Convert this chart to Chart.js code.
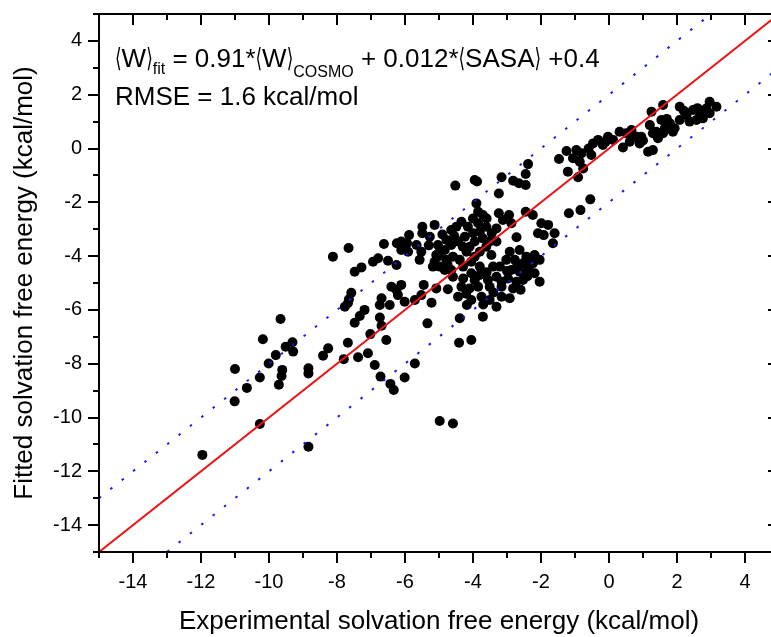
<!DOCTYPE html>
<html>
<head>
<meta charset="utf-8">
<script src="https://cdn.jsdelivr.net/npm/chart.js@4.4.0/dist/chart.umd.min.js"></script>
<style>
    html, body { margin: 0; padding: 0; background: #fff; overflow: hidden; }
    #wrap { width: 771px; height: 637px; overflow: hidden; }
</style>
</head>
<body>
<div id="wrap"><canvas id="chart" width="790" height="637"></canvas></div>
<script>
// experimental vs fitted solvation free energies (kcal/mol)
const expValues = [
    -9.66, -10.18, -9.51, -9.31, -9.29, -9.80, -10.01, -11.00, -9.61, -9.63, -9.71, -10.27, -10.65, -11.01,
    -8.84, -8.84, -8.26, -8.41, -7.80, -7.68, -7.77, -7.68, -10.27, -8.84, -11.96,
    -8.12, -7.66, -6.62, -6.24, -6.11, -5.88, -5.94, -6.11, -5.91, -5.49, -5.13, -5.49, -5.27, -5.66,
    -5.52, -5.57, -5.03, -4.98, -5.13, -4.98, -4.83, -4.78, -6.79, -6.94, -6.50, -6.25, -7.28, -7.48,
    -6.40, -6.25, -6.11, -6.21, -6.01, -5.45, -5.08, -4.74, -5.71, -5.52, -5.22, -7.58, -7.65,
    -6.69, -6.74, -6.45, -7.19, -7.33, -7.48, -6.74, -6.69, -5.34, -7.02, -6.55, -7.38, -7.09, -6.89,
    -5.71, -6.72, -6.01, -6.43, -6.33,
    -2.38, -2.45, -3.16, -2.82, -2.65, -2.45, -3.95, -3.88, -4.52, -3.24, -3.90, -3.85, -3.71, -3.24,
    -2.94, -3.12, -2.87, -2.45, -2.24, -1.99, -1.79, -1.60, -2.09, -1.92, -1.65, -2.72,
    -4.78, -4.64, -4.49, -4.34, -4.15, -4.00, -3.85, -3.61, -3.31, -4.83, -4.64, -4.44, -4.24, -4.10,
    -3.95, -3.71, -3.51, -3.31, -5.08, -4.59, -4.39, -4.19, -3.95, -3.80, -3.61, -5.18, -4.64, -4.29,
    -4.05, -3.80, -3.46, -2.92, -2.63, -2.43, -2.19, -2.04, -2.24, -2.53, -2.77, -3.02, -3.21, -3.41,
    -2.87, -2.63, -2.38, -2.19, -2.97, -2.72, -2.53, -2.04, -3.31, -3.16, -3.56, -3.80, -4.05, -4.29,
    -4.59, -4.34, -4.10, -3.85, -3.51, -3.16, -2.82, -3.16, -2.92, -3.31, -3.51, -3.75, -4.05, -4.44,
    -4.39, -3.71, -4.41, -4.05,
    -1.18, -0.84, -0.55, -1.47, -1.25, -1.21, -0.91, -0.96, -0.81, -1.06, -0.86, -0.76, -0.52, -0.47,
    -0.32, -0.18, -0.03, 0.12, 0.41, 0.31, 0.51, 0.66, 0.61, 0.81, 0.90, 0.95, 1.15, 1.29, 1.20, 1.25,
    1.59, 1.54, 1.29, 1.44, 1.64, 1.79, 1.93, 2.08, 2.08, 2.28, 2.47, 2.57, 2.67, 2.86, 2.96, 3.16,
    2.96, 2.76, 2.37, 1.88, 1.39, 1.59,
    -4.18, -4.98, -4.59,
    -4.90, -4.55, -4.00, -3.60, -3.45, -4.30, -3.80, -5.30, -5.00, -4.75,
    -3.00, -2.70, -2.40, -3.60, -3.95, -3.40, -2.60, -2.30, -4.20, -3.70,
    0.70, 1.00, 2.20, 2.60, 1.70, -0.60, -0.10
];
const fitValues = [
    -6.34, -7.09, -7.37, -7.20, -7.55, -7.68, -7.99, -8.20, -8.23, -8.46, -8.78, -8.51, -8.90, -9.40,
    -8.17, -8.36, -7.43, -7.70, -7.83, -7.22, -5.88, -5.75, -10.24, -11.09, -11.39,
    -4.02, -3.70, -3.55, -3.52, -3.46, -3.22, -3.52, -3.77, -3.84, -2.91, -2.84, -3.15, -3.28, -3.59,
    -3.84, -4.14, -3.59, -3.84, -4.21, -4.39, -4.52, -4.14, -4.08, -4.21, -4.17, -4.33, -4.42, -4.58,
    -5.14, -5.26, -5.07, -5.45, -5.70, -5.07, -5.20, -5.23, -5.63, -5.45, -5.73, -5.36, -5.61,
    -5.57, -5.82, -5.82, -6.00, -6.23, -6.48, -6.28, -6.59, -6.50, -6.90, -7.12, -7.76, -7.61, -8.05,
    -7.99, -8.48, -8.51, -8.75, -8.98,
    -0.58, -0.95, -1.07, -1.20, -1.29, -1.36, -1.17, -1.23, -1.38, -1.67, -2.04, -2.35, -2.47, -2.41,
    -2.47, -2.66, -2.78, -2.35, -2.47, -2.78, -2.84, -3.15, -3.15, -3.22, -3.52, -3.30,
    -3.40, -3.03, -2.91, -2.72, -2.91, -3.15, -2.78, -2.91, -2.97, -3.77, -3.59, -3.46, -3.28, -3.65,
    -3.46, -3.34, -3.46, -3.46, -3.96, -4.02, -4.14, -3.84, -4.02, -3.84, -3.65, -4.39, -4.52, -4.39,
    -4.21, -4.39, -3.96, -3.84, -3.77, -4.02, -3.96, -4.14, -4.27, -4.27, -4.14, -4.14, -4.39, -4.39,
    -4.52, -4.58, -4.52, -4.64, -4.83, -4.95, -4.89, -4.95, -4.77, -4.95, -4.89, -4.70, -4.64, -4.83,
    -4.77, -5.14, -5.20, -5.14, -5.14, -5.14, -5.20, -5.51, -5.57, -5.88, -5.63, -5.51, -5.63, -5.51,
    -6.31, -6.25, -7.22, -7.12,
    -2.41, -2.29, -1.89, -0.39, -0.09, -0.86, -1.07, -0.06, -0.18, -0.36, -0.49, -0.74, -0.24, 0.19,
    0.32, 0.13, 0.44, 0.32, 0.04, 0.62, 0.57, 0.69, 0.25, 0.44, 0.19, 0.44, -0.12, -0.06, 0.87, 1.37,
    1.62, 1.06, 0.57, 0.38, 0.75, 0.94, 0.75, 1.06, 1.55, 1.25, 1.43, 1.06, 1.31, 1.49, 1.74, 1.55,
    1.31, 1.12, 1.00, 0.62, 0.62, 0.57,
    -5.82, -10.13, -10.22,
    -3.20, -3.25, -2.60, -2.60, -3.15, -3.65, -3.10, -3.60, -4.00, -4.30,
    -4.55, -4.35, -4.75, -4.60, -4.90, -5.35, -5.25, -4.30, -5.40, -5.80,
    0.50, 0.30, 1.40, 1.50, 1.10, 0.00, 0.25
];

const axisMin = -15;
const axisMax = 5;
const tickLabels = [-14, -12, -10, -8, -6, -4, -2, 0, 2, 4];
const bandOffset = 2; // dotted lines at y = x +/- 2

const xTitle = 'Experimental solvation free energy (kcal/mol)';
const yTitle = 'Fitted solvation free energy (kcal/mol)';

const FONT = '"Liberation Sans", Arial, "DejaVu Sans", sans-serif';

const scatterData = expValues.map((x, i) => ({ x: x, y: fitValues[i] }));
const diagonal = (off) => [
    { x: axisMin, y: axisMin + off },
    { x: axisMax, y: axisMax + off }
];

// Origin-style frame, ticks, titles and the fit equation
const frame = {
    id: 'frame',
    afterDraw(chart) {
        const { ctx, chartArea: a, scales: { x, y } } = chart;
        ctx.save();
        ctx.strokeStyle = '#000';
        ctx.lineWidth = 2;
        ctx.strokeRect(a.left, a.top, a.right - a.left, a.bottom - a.top);

        ctx.beginPath();
        for (let v = axisMin; v <= axisMax; v++) {
            const len = v % 2 === 0 ? 11 : 6;
            const px = Math.round(x.getPixelForValue(v));
            const py = Math.round(y.getPixelForValue(v));
            ctx.moveTo(px, a.bottom); ctx.lineTo(px, a.bottom + len);
            ctx.moveTo(px, a.top); ctx.lineTo(px, a.top + len);
            ctx.moveTo(a.left - len, py); ctx.lineTo(a.left, py);
            ctx.moveTo(a.right - len, py); ctx.lineTo(a.right, py);
        }
        ctx.stroke();

        ctx.fillStyle = '#000';
        ctx.font = '26px ' + FONT;
        ctx.textAlign = 'center';
        ctx.textBaseline = 'alphabetic';
        ctx.fillText(xTitle, (a.left + a.right) / 2, 629);
        ctx.save();
        ctx.translate(32, (a.top + a.bottom) / 2);
        ctx.rotate(-Math.PI / 2);
        ctx.fillText(yTitle, 0, 0);
        ctx.restore();

        // equation with subscripts; angle brackets are squeezed like the original's
        ctx.textAlign = 'left';
        const big = '26px ' + FONT, small = '16px ' + FONT;
        const parts = [
            ['\u27E8', big, 0, 0.65], ['W', big, 0, 1], ['\u27E9', big, 0, 0.65],
            ['fit', small, 7, 1],
            [' = 0.91*', big, 0, 1],
            ['\u27E8', big, 0, 0.65], ['W', big, 0, 1], ['\u27E9', big, 0, 0.65],
            ['COSMO', small, 10, 1],
            [' + 0.012*', big, 0, 1],
            ['\u27E8', big, 0, 0.65], ['SASA', big, 0, 1], ['\u27E9', big, 0, 0.65],
            [' +0.4', big, 0, 1]
        ];
        let cx = 115;
        parts.forEach(([t, f, dy, sx]) => {
            ctx.font = f;
            ctx.save();
            ctx.translate(cx, 67 + dy);
            ctx.scale(sx, 1);
            ctx.fillText(t, 0, 0);
            ctx.restore();
            cx += ctx.measureText(t).width * sx;
        });
        ctx.font = big;
        ctx.fillText('RMSE = 1.6 kcal/mol', 115, 105);
        ctx.restore();
    }
};

const axisOpts = (fit) => ({
    type: 'linear',
    min: axisMin,
    max: axisMax,
    grid: { display: false, drawTicks: false },
    border: { display: false },
    afterFit: (s) => {
        fit(s);
        s.paddingTop = 0; s.paddingBottom = 0;
        s.paddingLeft = 0; s.paddingRight = 0;
    },
    ticks: {
        stepSize: 1,
        autoSkip: false,
        maxRotation: 0,
        color: '#000',
        font: { family: FONT, size: 20 },
        callback: (v) => tickLabels.includes(v) ? String(v) : ''
    }
});

const xAxis = axisOpts((s) => { s.height = 85; });
xAxis.ticks.padding = 18;
const yAxis = axisOpts((s) => { s.width = 99; });
yAxis.ticks.padding = 17;

new Chart(document.getElementById('chart'), {
    type: 'scatter',
    data: {
        datasets: [
            {
                type: 'line', data: diagonal(0), borderColor: '#ee1111', borderWidth: 2,
                pointRadius: 0, fill: false
            },
            {
                type: 'line', data: diagonal(bandOffset), borderColor: '#1a1aee', borderWidth: 2,
                borderDash: [2.5, 12], pointRadius: 0, fill: false
            },
            {
                type: 'line', data: diagonal(-bandOffset), borderColor: '#1a1aee', borderWidth: 2,
                borderDash: [2.5, 12], pointRadius: 0, fill: false
            },
            {
                data: scatterData, backgroundColor: '#000', borderWidth: 0, pointRadius: 5
            }
        ]
    },
    options: {
        responsive: false,
        animation: false,
        clip: 0,
        layout: { padding: { top: 14, right: 11, left: 0, bottom: 0 } },
        plugins: { legend: { display: false }, tooltip: { enabled: false } },
        scales: { x: xAxis, y: yAxis }
    },
    plugins: [frame]
});
</script>
</body>
</html>
